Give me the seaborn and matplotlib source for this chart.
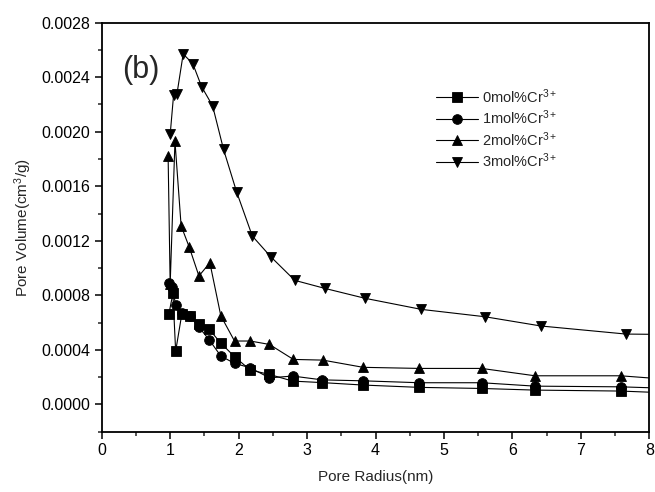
import numpy as np
import pandas as pd
import matplotlib
matplotlib.use("Agg")
import matplotlib.pyplot as plt
from matplotlib.ticker import MultipleLocator, FormatStrFormatter
import seaborn as sns

# Pore size distribution for Cr3+-doped samples
radius_0 = [0.98, 1.04, 1.08, 1.17, 1.29, 1.42, 1.57, 1.74, 1.94, 2.17, 2.45, 2.79, 3.22, 3.82, 4.64, 5.55, 6.33, 7.58, 8.9]
volume_0 = [0.000660, 0.000815, 0.000390, 0.000662, 0.000645, 0.000592, 0.000550, 0.000450, 0.000350, 0.000252, 0.000220,
            0.000171, 0.000160, 0.000142, 0.000125, 0.000117, 0.000105, 0.000098, 0.000072]

radius_1 = [0.98, 1.03, 1.08, 1.17, 1.29, 1.42, 1.57, 1.74, 1.94, 2.17, 2.45, 2.79, 3.22, 3.82, 4.64, 5.55, 6.33, 7.58, 8.9]
volume_1 = [0.000890, 0.000860, 0.000732, 0.000670, 0.000648, 0.000567, 0.000474, 0.000355, 0.000301, 0.000269, 0.000195,
            0.000208, 0.000180, 0.000173, 0.000159, 0.000159, 0.000134, 0.000129, 0.000108]

radius_2 = [0.97, 1.00, 1.07, 1.16, 1.28, 1.42, 1.58, 1.74, 1.94, 2.17, 2.45, 2.80, 3.23, 3.82, 4.64, 5.55, 6.33, 7.58, 8.9]
volume_2 = [0.001820, 0.000880, 0.001930, 0.001310, 0.001152, 0.000942, 0.001039, 0.000650, 0.000465, 0.000465, 0.000440,
            0.000330, 0.000325, 0.000272, 0.000264, 0.000264, 0.000210, 0.000210, 0.000160]

radius_3 = [1.00, 1.05, 1.10, 1.19, 1.33, 1.46, 1.62, 1.78, 1.97, 2.20, 2.47, 2.82, 3.26, 3.85, 4.67, 5.60, 6.42, 7.66, 8.9]
volume_3 = [0.001980, 0.002270, 0.002280, 0.002570, 0.002500, 0.002330, 0.002190, 0.001870, 0.001560, 0.001235, 0.001083,
            0.000910, 0.000851, 0.000778, 0.000697, 0.000643, 0.000575, 0.000516, 0.000510]

labels = ["0mol%Cr$^{3+}$", "1mol%Cr$^{3+}$", "2mol%Cr$^{3+}$", "3mol%Cr$^{3+}$"]
marker_shapes = ["s", "o", "^", "v"]

frames = []
for lab, xs, ys in zip(labels, [radius_0, radius_1, radius_2, radius_3],
                       [volume_0, volume_1, volume_2, volume_3]):
    frames.append(pd.DataFrame({"radius": xs, "volume": ys, "sample": lab}))
df = pd.concat(frames, ignore_index=True)

sns.set_style("ticks")
plt.rcParams["font.family"] = ["Liberation Sans", "DejaVu Sans"]
plt.rcParams["mathtext.fontset"] = "custom"
plt.rcParams["mathtext.rm"] = "Liberation Sans"
plt.rcParams["mathtext.it"] = "Liberation Sans:italic"
plt.rcParams["mathtext.bf"] = "Liberation Sans:bold"

fig = plt.figure(figsize=(6.55, 4.92), dpi=100)
ax = fig.add_axes([0.1553, 0.1226, 0.9913 - 0.1553, 0.9539 - 0.1226])

sns.lineplot(data=df, x="radius", y="volume", hue="sample", style="sample",
             palette=["black"] * 4, markers=dict(zip(labels, marker_shapes)),
             dashes=False, sort=False, estimator=None,
             linewidth=0.8, markersize=7, markeredgewidth=0.6,
             markeredgecolor="black", ax=ax, legend=True)

ax.set_xlim(0, 8)
ax.set_ylim(-0.0002, 0.0028)
ax.xaxis.set_major_locator(MultipleLocator(1))
ax.xaxis.set_minor_locator(MultipleLocator(0.5))
ax.yaxis.set_major_locator(MultipleLocator(0.0004))
ax.yaxis.set_minor_locator(MultipleLocator(0.0002))
ax.yaxis.set_major_formatter(FormatStrFormatter("%.4f"))

for sp in ax.spines.values():
    sp.set_linewidth(1.3)
    sp.set_color("black")
ax.tick_params(which="major", direction="out", length=5, width=1.1, labelsize=11.5,
               colors="black", top=False, right=False)
ax.tick_params(which="minor", direction="out", length=3, width=1.1,
               top=False, right=False)

ax.set_xlabel("Pore Radius(nm)", fontsize=11, labelpad=8)
ax.set_ylabel("Pore Volume(cm$^{3}$/g)", fontsize=11, labelpad=5)

ax.text(0.3, 0.00245, "(b)", fontsize=22, ha="left", va="center")

handles, labs = ax.get_legend_handles_labels()
ax.legend(handles, labs, loc="upper left", bbox_to_anchor=(0.586, 0.875),
          frameon=False, fontsize=10.5, handlelength=2.9, labelspacing=0.2,
          handletextpad=0.28)

fig.savefig("out.png", dpi=100)
